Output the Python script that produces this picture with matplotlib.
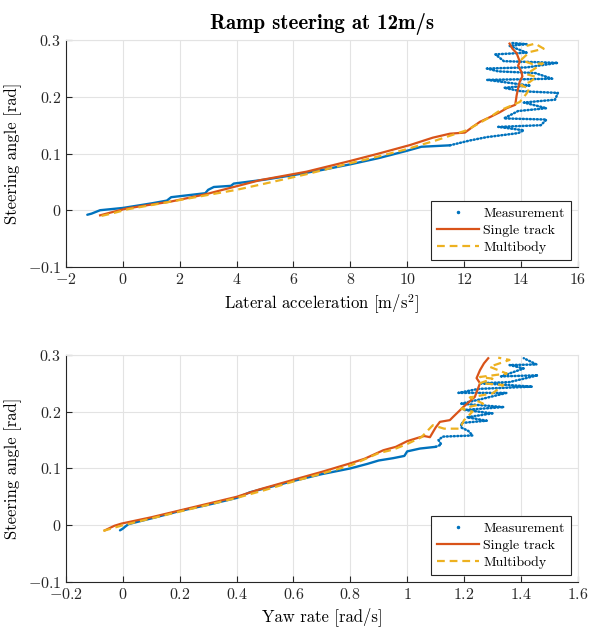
import matplotlib
matplotlib.use('Agg')
import matplotlib.pyplot as plt
from matplotlib.lines import Line2D

plt.rcParams['font.family'] = 'cmr10'
plt.rcParams['mathtext.fontset'] = 'cm'
plt.rcParams['axes.formatter.use_mathtext'] = True

blue = '#0072BD'
orange = '#D95319'
yellow = '#EDB120'

# ---- top: steering angle vs lateral acceleration ----
ay_meas = [-1.25, -1.1, -0.9, -0.8, 0.0, 1.0, 1.55, 1.7, 2.9, 3.0, 3.2, 3.8, 3.9, 5.0, 6.0, 7.0,
           8.0, 9.0, 10.0, 10.5, 11.5]
st_meas = [-0.008, -0.006, -0.002, 0.000, 0.004, 0.012, 0.017, 0.023, 0.030, 0.036, 0.041, 0.043,
           0.047, 0.054, 0.062, 0.071, 0.081, 0.092, 0.105, 0.112, 0.1145]
ay_meas_osc = [11.5, 12.2, 12.8, 13.9, 14.1, 13.2, 14.7, 14.9, 13.4, 13.9, 14.9, 14.1, 15.2, 15.3,
               14.0, 13.4, 14.3, 12.8, 15.1, 14.5, 13.2, 12.8, 14.2, 15.3, 13.4, 13.1, 14.2, 13.6,
               14.2, 13.7]
st_meas_osc = [0.1145, 0.123, 0.129, 0.136, 0.141, 0.147, 0.150, 0.160, 0.162, 0.175, 0.180, 0.190,
               0.195, 0.207, 0.210, 0.216, 0.220, 0.230, 0.232, 0.242, 0.245, 0.250, 0.252, 0.260,
               0.263, 0.275, 0.278, 0.290, 0.293, 0.295]

ay_st = [-0.8, -0.5, 0.13, 1.0, 1.66, 2.9, 4.82, 6.46, 8.0, 9.0, 10.1, 10.9, 11.5, 12.03, 12.3,
         12.56, 12.9, 13.26, 13.5, 13.8, 13.85, 13.9, 13.96, 14.05, 14.02, 13.9, 13.96, 13.85,
         13.7, 13.6]
st_st = [-0.009, -0.005, 0.003, 0.010, 0.015, 0.028, 0.053, 0.068, 0.087, 0.100, 0.115, 0.128,
         0.135, 0.137, 0.147, 0.156, 0.164, 0.173, 0.180, 0.186, 0.203, 0.215, 0.227, 0.236,
         0.244, 0.255, 0.262, 0.277, 0.285, 0.294]

ay_mb = [-0.75, -0.4, 0.2, 1.0, 2.0, 3.0, 4.0, 5.0, 6.5, 8.0, 9.0, 10.0, 11.0, 11.6, 12.09, 12.9,
         13.26, 13.96, 14.2, 14.3, 14.0, 14.3, 14.55, 14.2, 14.4, 14.77, 14.4, 14.0, 14.3, 14.8,
         14.5, 14.2]
st_mb = [-0.010, -0.006, 0.002, 0.009, 0.018, 0.027, 0.036, 0.047, 0.064, 0.083, 0.095, 0.108,
         0.123, 0.133, 0.141, 0.164, 0.176, 0.191, 0.206, 0.215, 0.220, 0.226, 0.235, 0.240,
         0.247, 0.259, 0.258, 0.265, 0.279, 0.285, 0.294, 0.290]

# ---- bottom: steering angle vs yaw rate ----
r_meas = [-0.01, 0.0, 0.007, 0.02, 0.1, 0.2, 0.3, 0.4, 0.447, 0.6, 0.7, 0.8, 0.86, 0.9, 0.95,
          0.99, 1.0, 1.045, 1.10]
sr_meas = [-0.009, -0.006, -0.003, 0.002, 0.012, 0.025, 0.036, 0.048, 0.058, 0.078, 0.090, 0.100,
           0.108, 0.114, 0.118, 0.122, 0.130, 0.135, 0.138]
r_meas_osc = [1.10, 1.12, 1.11, 1.125, 1.23, 1.215, 1.19, 1.19, 1.28, 1.21, 1.30, 1.20, 1.34, 1.19,
              1.26, 1.35, 1.18, 1.25, 1.44, 1.26, 1.36, 1.46, 1.33, 1.41, 1.36, 1.455, 1.41]
sr_meas_osc = [0.138, 0.142, 0.150, 0.156, 0.158, 0.166, 0.172, 0.180, 0.184, 0.190, 0.197, 0.203,
               0.208, 0.214, 0.222, 0.233, 0.233, 0.240, 0.244, 0.250, 0.252, 0.264, 0.262, 0.276,
               0.282, 0.283, 0.294]

r_st = [-0.063, -0.03, -0.004, 0.1, 0.2, 0.3, 0.4, 0.48, 0.6, 0.7, 0.8, 0.85, 0.916, 0.96, 1.0,
        1.045, 1.06, 1.08, 1.1, 1.115, 1.15, 1.162, 1.197, 1.238, 1.256, 1.244, 1.256, 1.27, 1.285]
sr_st = [-0.009, -0.001, 0.003, 0.014, 0.026, 0.038, 0.050, 0.063, 0.080, 0.094, 0.109, 0.117,
         0.132, 0.138, 0.148, 0.155, 0.157, 0.155, 0.172, 0.182, 0.185, 0.191, 0.208, 0.226,
         0.250, 0.259, 0.273, 0.285, 0.294]

r_mb = [-0.069, 0.0, 0.1, 0.2, 0.3, 0.4, 0.5, 0.6, 0.7, 0.8, 0.9, 0.95, 1.0, 1.05, 1.09, 1.13,
        1.185, 1.2, 1.23, 1.19, 1.267, 1.22, 1.3, 1.338, 1.256, 1.30, 1.256, 1.35, 1.29, 1.36, 1.32]
sr_mb = [-0.010, 0.000, 0.012, 0.024, 0.036, 0.048, 0.062, 0.077, 0.091, 0.105, 0.127, 0.133,
         0.143, 0.155, 0.176, 0.170, 0.170, 0.185, 0.200, 0.205, 0.214, 0.225, 0.232, 0.247,
         0.250, 0.258, 0.261, 0.267, 0.279, 0.291, 0.295]

y_ticks = [-0.1, 0, 0.1, 0.2, 0.3]
y_labels = ['$-0.1$', '$0$', '$0.1$', '$0.2$', '$0.3$']
ax_ticks = [-2, 0, 2, 4, 6, 8, 10, 12, 14, 16]
ax_labels = ['$-2$', '$0$', '$2$', '$4$', '$6$', '$8$', '$10$', '$12$', '$14$', '$16$']
r_ticks = [-0.2, 0, 0.2, 0.4, 0.6, 0.8, 1.0, 1.2, 1.4, 1.6]
r_labels = ['$-0.2$', '$0$', '$0.2$', '$0.4$', '$0.6$', '$0.8$', '$1$', '$1.2$', '$1.4$', '$1.6$']


fig = plt.figure(figsize=(5.89, 6.28), dpi=100)
ax1 = fig.add_axes([0.112, 0.575, 0.869, 0.361])
ax2 = fig.add_axes([0.112, 0.0732, 0.869, 0.3618])


def draw(ax, xm, ym, xo, yo, xs, ys, xb, yb):
    ax.plot(xm, ym, color=blue, lw=1.7, solid_capstyle='round')
    ax.plot(xo, yo, color=blue, lw=1.8, ls=(0, (0.4, 1.0)), dash_capstyle='round')
    ax.plot(xs, ys, color=orange, lw=1.6)
    ax.plot(xb, yb, color=yellow, lw=1.6, ls=(0, (3.5, 2.2)))
    handles = [Line2D([], [], color=blue, marker='.', ls='none', markersize=3),
               Line2D([], [], color=orange, lw=1.6),
               Line2D([], [], color=yellow, lw=1.6, ls=(0, (3.5, 2.2)))]
    leg = ax.legend(handles, ['Measurement', 'Single track', 'Multibody'], loc='lower right',
                    fontsize=10, fancybox=False, framealpha=1, edgecolor='#262626',
                    borderaxespad=0.5, handlelength=3.0, labelspacing=0.3, borderpad=0.45,
                    handletextpad=0.3)
    leg.get_frame().set_linewidth(0.8)
    ax.grid(True, color='#e3e3e3', lw=0.8)
    ax.set_axisbelow(True)
    for s in ['top', 'right']:
        ax.spines[s].set_color('#e3e3e3')
    for s in ['left', 'bottom']:
        ax.spines[s].set_color('#262626')
        ax.spines[s].set_linewidth(0.8)
    ax.tick_params(direction='in', length=4, width=0.8, colors='#262626', labelsize=11.5,
                   top=False, right=False)
    ax.set_ylim(-0.1, 0.3)
    ax.set_yticks(y_ticks)
    ax.set_yticklabels(y_labels)
    ax.set_ylabel('Steering angle [rad]', fontsize=12)


draw(ax1, ay_meas, st_meas, ay_meas_osc, st_meas_osc, ay_st, st_st, ay_mb, st_mb)
ax1.set_xlim(-2, 16)
ax1.set_xticks(ax_ticks)
ax1.set_xticklabels(ax_labels)
ax1.set_xlabel(r'Lateral acceleration [m/s$^2$]', fontsize=12)
ax1.set_title('Ramp steering at 12m/s', fontsize=15, fontfamily='cmb10', pad=8)

draw(ax2, r_meas, sr_meas, r_meas_osc, sr_meas_osc, r_st, sr_st, r_mb, sr_mb)
ax2.set_xlim(-0.2, 1.6)
ax2.set_xticks(r_ticks)
ax2.set_xticklabels(r_labels)
ax2.set_xlabel('Yaw rate [rad/s]', fontsize=12)

fig.savefig('out.png', dpi=100)
